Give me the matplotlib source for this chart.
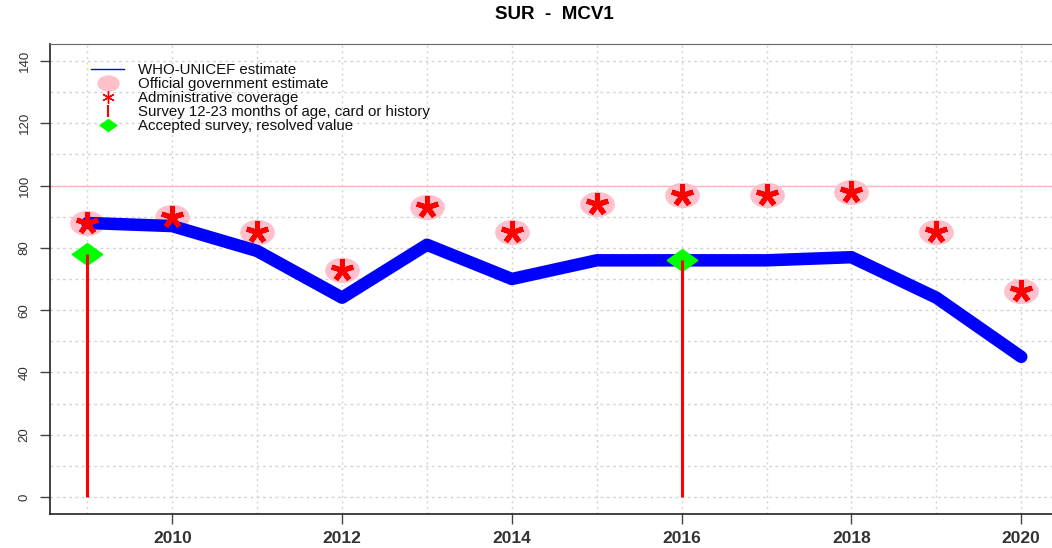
import matplotlib
matplotlib.use("Agg")
from matplotlib import pyplot as plt
from matplotlib.path import Path
from matplotlib.transforms import Affine2D
import numpy as np

plt.rcParams["font.family"] = ["Liberation Sans", "DejaVu Sans"]

years = [2009, 2010, 2011, 2012, 2013, 2014, 2015, 2016, 2017, 2018, 2019, 2020]
wuenic = [88, 87, 79, 64, 81, 70, 76, 76, 76, 77, 64, 45]
official = [88, 90, 85, 73, 93, 85, 94, 97, 97, 98, 85, 66]
admin = [88, 90, 85, 73, 93, 85, 94, 97, 97, 98, 85, 66]
survey_years = [2009, 2016]
survey_values = [78, 76]
accepted_years = [2009, 2016]
accepted_values = [78, 76]

# markers look stretched sideways in the reference
ellipse = Path.unit_circle().transformed(Affine2D().scale(1.4, 1.0))
diamond = Path([(-1.4, 0), (0, 1), (1.4, 0), (0, -1), (-1.4, 0)],
               [Path.MOVETO, Path.LINETO, Path.LINETO, Path.LINETO, Path.CLOSEPOLY])

fig = plt.figure(figsize=(10.52, 5.48), dpi=100)
ax = fig.add_axes([50 / 1052, 33.6 / 548, 1008.6 / 1052, 470.8 / 548])

ax.set_xlim(2008.56, 2020.44)
ax.set_ylim(-5.6, 145.6)

# grid
for yr in years:
    ax.axvline(yr, color="#d3d3d3", linestyle=(0, (1.5, 2.5)), linewidth=1, zorder=0)
for gy in range(0, 150, 10):
    ax.axhline(gy, color="#d3d3d3", linestyle=(0, (2, 2.5)), linewidth=1, zorder=0)
ax.axhline(100, color="#ffb6c1", linewidth=1, zorder=1)

ax.plot(years, official, linestyle="none", marker=ellipse, markersize=24,
        color="pink", zorder=2)
ax.plot(years, wuenic, color="blue", linewidth=9, solid_capstyle="round",
        solid_joinstyle="round", zorder=3)
ax.plot(years, admin, linestyle="none", marker=(5, 2, 0), markersize=16,
        markeredgewidth=3.6, color="red", zorder=4)
ax.plot(accepted_years, accepted_values, linestyle="none", marker=diamond,
        markersize=22, color="#00ff00", zorder=5)
ax.vlines(survey_years, 0, survey_values, color="red", linewidth=2.2, zorder=6)

# legend handles
ax.plot([], [], color="blue", linewidth=1, label="WHO-UNICEF estimate")
ax.plot([], [], linestyle="none", marker=ellipse, markersize=15, color="pink",
        label="Official government estimate")
ax.plot([], [], linestyle="none", marker=(6, 2, 0), markersize=9,
        markeredgewidth=1, color="red", label="Administrative coverage")
ax.plot([], [], linestyle="none", marker="|", markersize=9, markeredgewidth=1.5,
        color="red", label="Survey 12-23 months of age, card or history")
ax.plot([], [], linestyle="none", marker=diamond, markersize=12, color="#00ff00",
        label="Accepted survey, resolved value")
handles, labels = ax.get_legend_handles_labels()
ax.legend(handles[-5:], labels[-5:], loc="upper left",
          bbox_to_anchor=(41 / 1008.6, 0.958), frameon=False, fontsize=10.8,
          borderpad=0, borderaxespad=0, handlelength=2.2, handletextpad=0.9,
          labelspacing=0.0, labelcolor="#111111")

ax.set_xticks(years[1::2])
ax.set_xticklabels([str(y) for y in years[1::2]], fontweight="bold",
                   color="#333333", fontsize=12.5)
ax.set_yticks(range(0, 141, 20))
ax.set_yticklabels([str(v) for v in range(0, 141, 20)], rotation=90,
                   va="center", color="#333333", fontsize=9.5)
ax.tick_params(axis="both", length=7, width=1, color="#444444")
ax.tick_params(axis="x", pad=5)
ax.tick_params(axis="y", pad=7)

for side in ["left", "bottom"]:
    ax.spines[side].set_color("#222222")
    ax.spines[side].set_linewidth(1.2)
ax.spines["top"].set_color("#666666")
ax.spines["right"].set_color("#666666")

ax.set_title("SUR  -  MCV1", fontweight="bold", fontsize=13.5, pad=18)

fig.savefig("out.png", dpi=100)
